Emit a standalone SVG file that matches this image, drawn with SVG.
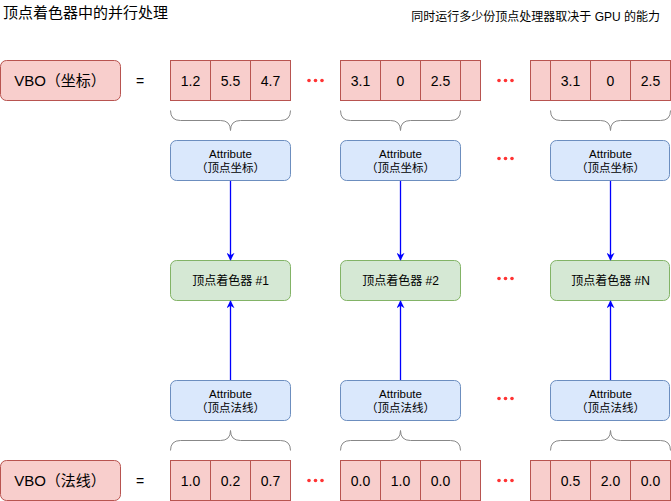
<svg xmlns="http://www.w3.org/2000/svg" width="671" height="501" viewBox="0 0 671 501">
<defs>
<style>
text{font-family:"Liberation Sans","Noto Sans CJK SC",sans-serif;fill:#000;}
.vbo{fill:#f8cecc;stroke:#b85450;stroke-width:1;}
.attr{fill:#dae8fc;stroke:#6c8ebf;stroke-width:1;}
.sh{fill:#d5e8d4;stroke:#82b366;stroke-width:1;}
.brace{fill:none;stroke:#888;stroke-width:1;}
.conn{fill:none;stroke:#0000ff;stroke-width:1.3;}
.dot{fill:#ff3333;}
.big{font-size:15px;}
.num{font-size:14px;text-anchor:middle;}
.t11{font-size:11.5px;text-anchor:middle;}
.t12{font-size:12px;text-anchor:middle;}
</style>
<marker id="arr" viewBox="0 0 10 10" refX="9" refY="5" markerWidth="8" markerHeight="8" markerUnits="userSpaceOnUse" orient="auto">
<path d="M0,0 L10,5 L0,10 L3,5 Z" fill="#0000ff"/>
</marker>
</defs>
<rect width="671" height="501" fill="#fff"/>
<text x="3" y="18" style="font-size:15px">顶点着色器中的并行处理</text>
<text x="660" y="21" style="font-size:12px;text-anchor:end">同时运行多少份顶点处理器取决于 GPU 的能力</text>

<g id="vbo-pos">
<rect class="vbo" x="0.5" y="60.5" width="120" height="40" rx="6"/>
<text class="big" x="60" y="86" text-anchor="middle">VBO（坐标）</text>
</g>
<text class="num" x="140" y="86">=</text>
<g id="cells-pos">
<rect class="vbo" x="170.5" y="60.5" width="40" height="40"/>
<rect class="vbo" x="210.5" y="60.5" width="40" height="40"/>
<rect class="vbo" x="250.5" y="60.5" width="40" height="40"/>
<text class="num" x="190.5" y="86">1.2</text>
<text class="num" x="230.5" y="86">5.5</text>
<text class="num" x="270.5" y="86">4.7</text>
<rect class="vbo" x="340.5" y="60.5" width="40" height="40"/>
<rect class="vbo" x="380.5" y="60.5" width="40" height="40"/>
<rect class="vbo" x="420.5" y="60.5" width="40" height="40"/>
<rect class="vbo" x="460.5" y="60.5" width="20" height="40"/>
<text class="num" x="360.5" y="86">3.1</text>
<text class="num" x="400.5" y="86">0</text>
<text class="num" x="440.5" y="86">2.5</text>
<rect class="vbo" x="530.5" y="60.5" width="20" height="40"/>
<rect class="vbo" x="550.5" y="60.5" width="40" height="40"/>
<rect class="vbo" x="590.5" y="60.5" width="40" height="40"/>
<rect class="vbo" x="630.5" y="60.5" width="40" height="40"/>
<text class="num" x="570.5" y="86">3.1</text>
<text class="num" x="610.5" y="86">0</text>
<text class="num" x="650.5" y="86">2.5</text>
</g>

<g id="vbo-norm">
<rect class="vbo" x="0.5" y="460.5" width="120" height="40" rx="6"/>
<text class="big" x="60" y="486" text-anchor="middle">VBO（法线）</text>
</g>
<text class="num" x="140" y="486">=</text>
<g id="cells-norm">
<rect class="vbo" x="170.5" y="460.5" width="40" height="40"/>
<rect class="vbo" x="210.5" y="460.5" width="40" height="40"/>
<rect class="vbo" x="250.5" y="460.5" width="40" height="40"/>
<text class="num" x="190.5" y="486">1.0</text>
<text class="num" x="230.5" y="486">0.2</text>
<text class="num" x="270.5" y="486">0.7</text>
<rect class="vbo" x="340.5" y="460.5" width="40" height="40"/>
<rect class="vbo" x="380.5" y="460.5" width="40" height="40"/>
<rect class="vbo" x="420.5" y="460.5" width="40" height="40"/>
<rect class="vbo" x="460.5" y="460.5" width="20" height="40"/>
<text class="num" x="360.5" y="486">0.0</text>
<text class="num" x="400.5" y="486">1.0</text>
<text class="num" x="440.5" y="486">0.0</text>
<rect class="vbo" x="530.5" y="460.5" width="20" height="40"/>
<rect class="vbo" x="550.5" y="460.5" width="40" height="40"/>
<rect class="vbo" x="590.5" y="460.5" width="40" height="40"/>
<rect class="vbo" x="630.5" y="460.5" width="40" height="40"/>
<text class="num" x="570.5" y="486">0.5</text>
<text class="num" x="610.5" y="486">2.0</text>
<text class="num" x="650.5" y="486">0.0</text>
</g>

<g id="dots">
<circle class="dot" cx="309" cy="80.5" r="1.8"/><circle class="dot" cx="315.5" cy="80.5" r="1.8"/><circle class="dot" cx="322" cy="80.5" r="1.8"/>
<circle class="dot" cx="499" cy="80.5" r="1.8"/><circle class="dot" cx="505.5" cy="80.5" r="1.8"/><circle class="dot" cx="512" cy="80.5" r="1.8"/>
<circle class="dot" cx="499" cy="158.5" r="1.8"/><circle class="dot" cx="505.5" cy="158.5" r="1.8"/><circle class="dot" cx="512" cy="158.5" r="1.8"/>
<circle class="dot" cx="499" cy="278.5" r="1.8"/><circle class="dot" cx="505.5" cy="278.5" r="1.8"/><circle class="dot" cx="512" cy="278.5" r="1.8"/>
<circle class="dot" cx="499" cy="398.5" r="1.8"/><circle class="dot" cx="505.5" cy="398.5" r="1.8"/><circle class="dot" cx="512" cy="398.5" r="1.8"/>
<circle class="dot" cx="309" cy="480.5" r="1.8"/><circle class="dot" cx="315.5" cy="480.5" r="1.8"/><circle class="dot" cx="322" cy="480.5" r="1.8"/>
<circle class="dot" cx="499" cy="480.5" r="1.8"/><circle class="dot" cx="505.5" cy="480.5" r="1.8"/><circle class="dot" cx="512" cy="480.5" r="1.8"/>
</g>

<g id="braces">
<path class="brace" d="M170.5,110.5 Q170.5,120.5 180.5,120.5 L220.5,120.5 Q230.5,120.5 230.5,130.5 Q230.5,120.5 240.5,120.5 L280.5,120.5 Q290.5,120.5 290.5,110.5"/>
<path class="brace" d="M340.5,110.5 Q340.5,120.5 350.5,120.5 L390.5,120.5 Q400.5,120.5 400.5,130.5 Q400.5,120.5 410.5,120.5 L450.5,120.5 Q460.5,120.5 460.5,110.5"/>
<path class="brace" d="M550.5,110.5 Q550.5,120.5 560.5,120.5 L600.5,120.5 Q610.5,120.5 610.5,130.5 Q610.5,120.5 620.5,120.5 L660.5,120.5 Q670.5,120.5 670.5,110.5"/>
<path class="brace" d="M170.5,450.5 Q170.5,440.5 180.5,440.5 L220.5,440.5 Q230.5,440.5 230.5,430.5 Q230.5,440.5 240.5,440.5 L280.5,440.5 Q290.5,440.5 290.5,450.5"/>
<path class="brace" d="M340.5,450.5 Q340.5,440.5 350.5,440.5 L390.5,440.5 Q400.5,440.5 400.5,430.5 Q400.5,440.5 410.5,440.5 L450.5,440.5 Q460.5,440.5 460.5,450.5"/>
<path class="brace" d="M550.5,450.5 Q550.5,440.5 560.5,440.5 L600.5,440.5 Q610.5,440.5 610.5,430.5 Q610.5,440.5 620.5,440.5 L660.5,440.5 Q670.5,440.5 670.5,450.5"/>
</g>

<g id="attr-pos-1"><rect class="attr" x="170.5" y="140.5" width="120" height="40" rx="6"/><text class="t11" x="230.5" y="158">Attribute</text><text class="t11" x="230.5" y="172">（顶点坐标）</text></g>
<g id="attr-pos-2"><rect class="attr" x="340.5" y="140.5" width="120" height="40" rx="6"/><text class="t11" x="400.5" y="158">Attribute</text><text class="t11" x="400.5" y="172">（顶点坐标）</text></g>
<g id="attr-pos-n"><rect class="attr" x="550.5" y="140.5" width="119" height="40" rx="6"/><text class="t11" x="610.5" y="158">Attribute</text><text class="t11" x="610.5" y="172">（顶点坐标）</text></g>

<g id="shader-1"><rect class="sh" x="170.5" y="260.5" width="120" height="40" rx="6"/><text class="t12" x="230.5" y="285">顶点着色器 #1</text></g>
<g id="shader-2"><rect class="sh" x="340.5" y="260.5" width="120" height="40" rx="6"/><text class="t12" x="400.5" y="285">顶点着色器 #2</text></g>
<g id="shader-n"><rect class="sh" x="550.5" y="260.5" width="119" height="40" rx="6"/><text class="t12" x="610.5" y="285">顶点着色器 #N</text></g>

<g id="attr-norm-1"><rect class="attr" x="170.5" y="380.5" width="120" height="40" rx="6"/><text class="t11" x="230.5" y="398">Attribute</text><text class="t11" x="230.5" y="412">（顶点法线）</text></g>
<g id="attr-norm-2"><rect class="attr" x="340.5" y="380.5" width="120" height="40" rx="6"/><text class="t11" x="400.5" y="398">Attribute</text><text class="t11" x="400.5" y="412">（顶点法线）</text></g>
<g id="attr-norm-n"><rect class="attr" x="550.5" y="380.5" width="119" height="40" rx="6"/><text class="t11" x="610.5" y="398">Attribute</text><text class="t11" x="610.5" y="412">（顶点法线）</text></g>

<g id="connectors">
<line class="conn" x1="230.5" y1="181" x2="230.5" y2="260" marker-end="url(#arr)"/>
<line class="conn" x1="400.5" y1="181" x2="400.5" y2="260" marker-end="url(#arr)"/>
<line class="conn" x1="610.5" y1="181" x2="610.5" y2="260" marker-end="url(#arr)"/>
<line class="conn" x1="230.5" y1="380" x2="230.5" y2="301" marker-end="url(#arr)"/>
<line class="conn" x1="400.5" y1="380" x2="400.5" y2="301" marker-end="url(#arr)"/>
<line class="conn" x1="610.5" y1="380" x2="610.5" y2="301" marker-end="url(#arr)"/>
</g>
</svg>
